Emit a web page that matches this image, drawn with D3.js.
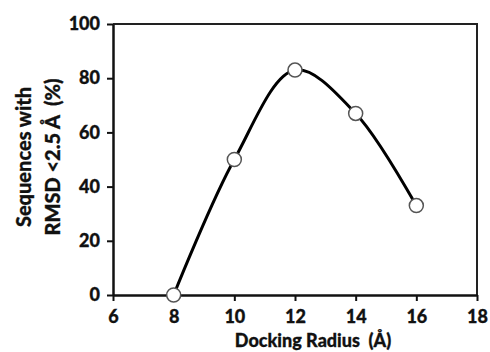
<!DOCTYPE html>
<html>
<head>
<meta charset="utf-8">
<script src="https://cdn.jsdelivr.net/npm/d3@7"></script>
<style>
  body { margin: 0; background: #fff; }
  text { font-family: Lato, sans-serif; font-weight: 900; fill: #111; stroke: #111; stroke-width: 0.3px; white-space: pre; }
</style>
</head>
<body>
<div class="chart"></div>
<script>
// data
var radius = [8, 10, 12, 14, 16];
var percent = [0, 50, 83, 67, 33];
var xTicks = [6, 8, 10, 12, 14, 16, 18];
var yTicks = [0, 20, 40, 60, 80, 100];

var w = 490, h = 352;
var plotLeft = 113, plotRight = 477, plotTop = 24, plotBottom = 295;

var svg = d3.select(".chart").append("svg").attr("width", w).attr("height", h);

var x = d3.scaleLinear().domain([6, 18]).range([plotLeft, plotRight]);
var y = d3.scaleLinear().domain([0, 100]).range([plotBottom, plotTop]);

// frame (top + right)
svg.append("path")
   .attr("d", "M" + plotLeft + "," + plotTop + "H" + plotRight + "V" + plotBottom)
   .attr("fill", "none").attr("stroke", "#222").attr("stroke-width", 2);

var xAxis = svg.append("g").attr("transform", "translate(0," + plotBottom + ")")
   .call(d3.axisBottom(x).tickValues(xTicks).tickSize(6).tickPadding(9).tickSizeOuter(0));
var yAxis = svg.append("g").attr("transform", "translate(" + plotLeft + ",0)")
   .call(d3.axisLeft(y).tickValues(yTicks).tickSize(6).tickPadding(7).tickSizeOuter(0));

[xAxis, yAxis].forEach(function(a){
  a.select(".domain").attr("stroke", "#111").attr("stroke-width", 2.5);
  a.selectAll(".tick line").attr("stroke", "#111").attr("stroke-width", 2);
  a.selectAll(".tick text").style("font-size", "18px").attr("fill", "#111");
});

// smooth line
var pts = radius.map(function(d, i){ return [d, percent[i]]; });
var line = d3.line()
  .x(function(d){ return x(d[0]); })
  .y(function(d){ return y(d[1]); })
  .curve(d3.curveCatmullRom.alpha(0.5));

svg.append("path").datum(pts)
   .attr("d", line)
   .attr("fill", "none").attr("stroke", "#000").attr("stroke-width", 3);

svg.selectAll("circle").data(pts).enter().append("circle")
   .attr("cx", function(d){ return x(d[0]); })
   .attr("cy", function(d){ return y(d[1]); })
   .attr("r", 7)
   .attr("fill", "#fff").attr("stroke", "#555").attr("stroke-width", 1.5);

// titles
svg.append("text").attr("x", 313).attr("y", 347)
   .attr("text-anchor", "middle").style("font-size", "18px")
   .text("Docking Radius  (Å)");

var yt = svg.append("text").attr("transform", "translate(31,157) rotate(-90)")
   .attr("text-anchor", "middle").style("font-size", "20px");
yt.append("tspan").attr("x", 0).attr("y", 0).text("Sequences with");
yt.append("tspan").attr("x", 0).attr("y", 29).text("RMSD <2.5 Å  (%)");
</script>
</body>
</html>
